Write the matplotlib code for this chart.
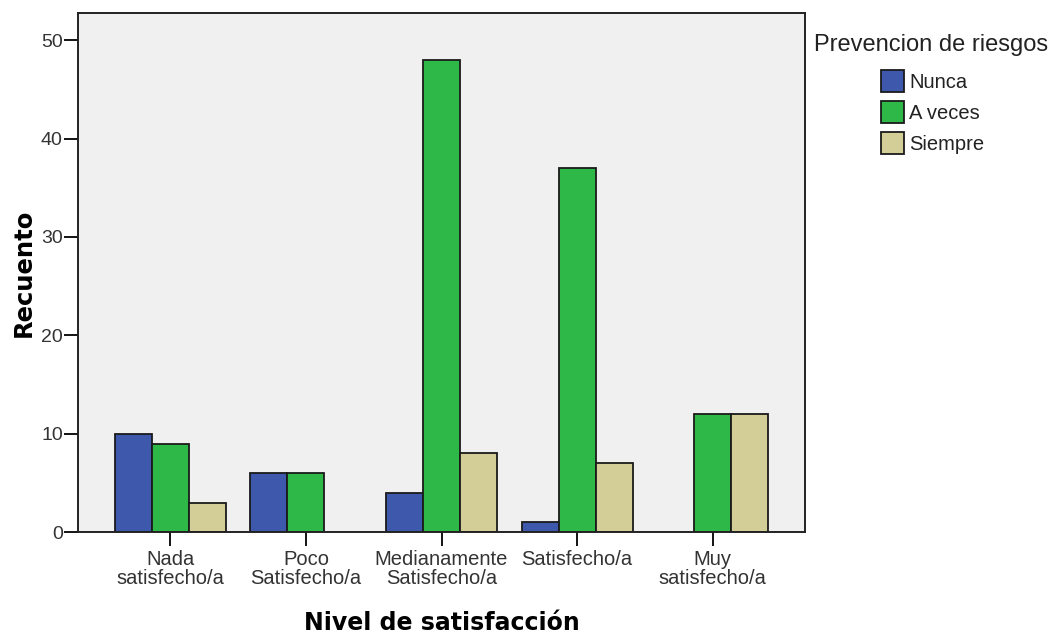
# Gráfico de barras agrupadas: Nivel de satisfacción vs Prevencion de riesgos
import numpy as np
import matplotlib.pyplot as plt
from matplotlib.patches import Patch

# Datos
categorias = ['Nada\nsatisfecho/a', 'Poco\nSatisfecho/a', 'Medianamente\nSatisfecho/a',
              'Satisfecho/a', 'Muy\nsatisfecho/a']
series = ['Nunca', 'A veces', 'Siempre']
nunca = [10, 6, 4, 1, 0]
a_veces = [9, 6, 48, 37, 12]
siempre = [3, 0, 8, 7, 12]
colores = ['#3E58AC', '#2EB848', '#D3CE97']

fig = plt.figure(figsize=(10.56, 6.35), dpi=100)
ax = fig.add_axes([0.0739, 0.162, 0.6884, 0.818])
ax.set_facecolor('#F0F0F0')

x = np.arange(len(categorias))
ancho = 0.273
for i, (valores, color) in enumerate(zip([nunca, a_veces, siempre], colores)):
    pos = x + (i - 1) * ancho
    # SPSS no dibuja barras con recuento 0
    mask = np.array(valores) > 0
    ax.bar(pos[mask], np.array(valores)[mask], width=ancho, color=color,
           edgecolor='#1a1a1a', linewidth=1.3, zorder=2)

ax.set_xlim(-0.68, 4.68)
ax.set_ylim(0, 52.8)
ax.set_yticks([0, 10, 20, 30, 40, 50])
ax.set_xticks(x)
ax.set_xticklabels(categorias, fontsize=14.5, family='Liberation Sans', color='#333333',
                   linespacing=1.02)
ax.tick_params(axis='y', labelsize=14, labelcolor='#333333', length=10, width=1.3, pad=1)
ax.tick_params(axis='x', length=10, width=1.3, pad=3)
for lab in ax.get_yticklabels():
    lab.set_family('Liberation Sans')
for s in ax.spines.values():
    s.set_linewidth(1.4)
    s.set_color('#222222')

ax.set_xlabel('Nivel de satisfacción', fontsize=17, fontweight='bold', labelpad=16)
ax.set_ylabel('Recuento', fontsize=17.5, fontweight='bold', labelpad=4)

# Leyenda: título aparte y entradas debajo
fig.text(931 / 1056, 1 - 45 / 635, 'Prevencion de riesgos', ha='center', va='center',
         family='Liberation Sans', fontsize=17, color='#222222')
handles = [Patch(facecolor=c, edgecolor='#1a1a1a', linewidth=1.3, label=s)
           for s, c in zip(series, colores)]
leg = fig.legend(handles=handles, loc='upper left',
                 bbox_to_anchor=(881 / 1056, 1 - 70 / 635), frameon=False,
                 prop={'family': 'Liberation Sans', 'size': 14.5},
                 handlelength=1.15, handleheight=1.3, handletextpad=0.25, labelspacing=0.45,
                 borderpad=0, borderaxespad=0)
for t in leg.get_texts():
    t.set_color('#222222')

plt.savefig('out.png', dpi=100)
